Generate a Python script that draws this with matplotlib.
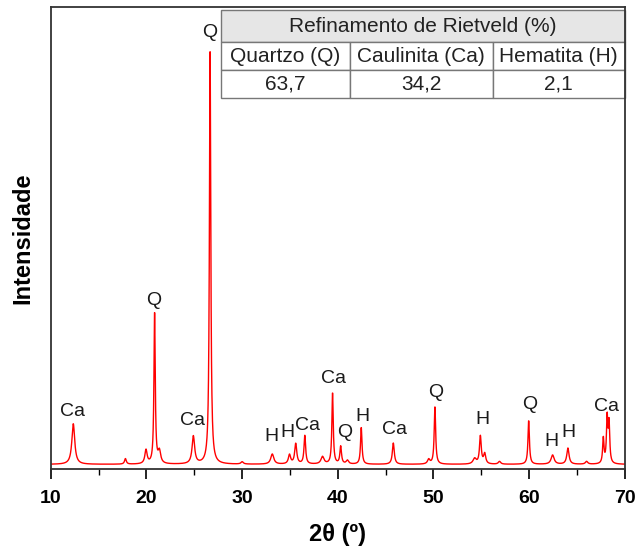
import numpy as np
import matplotlib.pyplot as plt

plt.rcParams['font.family'] = ['Liberation Sans', 'DejaVu Sans']

# peak list: position (2theta), height (a.u.), fwhm
peak_pos = [12.35, 17.8, 19.95, 20.85, 21.35, 24.9, 26.65, 30.0, 33.15, 34.95, 35.6,
            36.55, 38.4, 39.45, 40.3, 41.0, 42.45, 45.8, 49.5, 50.15, 54.3, 54.9,
            55.35, 56.9, 59.95, 62.45, 64.05, 66.0, 67.75, 68.15, 68.35]
peak_h = [88, 12, 30, 330, 26, 60, 905, 5, 22, 20, 44,
          62, 16, 155, 38, 8, 80, 46, 10, 125, 12, 60,
          22, 6, 95, 20, 35, 6, 55, 98, 85]
peak_w = [0.36, 0.22, 0.28, 0.16, 0.32, 0.32, 0.17, 0.3, 0.38, 0.28, 0.26,
          0.2, 0.38, 0.17, 0.2, 0.3, 0.18, 0.24, 0.3, 0.18, 0.4, 0.22,
          0.26, 0.3, 0.18, 0.38, 0.28, 0.3, 0.17, 0.17, 0.17]
baseline = 10

# phase labels: text, x, y (a.u.)
lab_txt = ['Ca', 'Q', 'Ca', 'Q', 'H', 'H', 'Ca', 'Ca', 'Q', 'H', 'Ca', 'Q', 'H', 'Q', 'H', 'H', 'Ca']
lab_x = [12.3, 20.8, 24.8, 26.6, 33.1, 34.7, 36.8, 39.5, 40.7, 42.6, 45.9, 50.2, 55.1, 60.1, 62.3, 64.1, 68.1]
lab_y = [125, 365, 104, 945, 70, 80, 95, 196, 78, 114, 85, 165, 108, 140, 60, 80, 136]

table_head = 'Refinamento de Rietveld (%)'
table_cols = ['Quartzo (Q)', 'Caulinita (Ca)', 'Hematita (H)']
table_vals = ['63,7', '34,2', '2,1']

x = np.arange(10, 70.001, 0.02)
y = np.full_like(x, baseline, dtype=float)
for p, h, w in zip(peak_pos, peak_h, peak_w):
    g = (w / 2) ** 2
    y += h * g / ((x - p) ** 2 + g)

fig = plt.figure(figsize=(6.35, 5.47), dpi=100)
ax = fig.add_axes([0.080, 0.1426, 0.904, 0.8444])
ax.plot(x, y, color='#ff0000', lw=1.0)
ax.set_xlim(10, 70)
ax.set_ylim(0, 1000)
ax.set_yticks([])
ax.set_xticks([10, 20, 30, 40, 50, 60, 70])
ax.set_xticks(np.arange(15, 70, 10), minor=True)
ax.tick_params(axis='x', which='major', direction='out', length=7, width=1.2,
               labelsize=14, pad=8)
ax.tick_params(axis='x', which='minor', direction='out', length=4, width=1.0)
for lbl in ax.get_xticklabels():
    lbl.set_fontweight('bold')
for s in ax.spines.values():
    s.set_linewidth(1.3)
    s.set_color('#333333')
ax.set_xlabel('2θ (º)', fontsize=17, fontweight='bold', labelpad=12)
ax.set_ylabel('Intensidade', fontsize=17, fontweight='bold', labelpad=12)

for t, lx, ly in zip(lab_txt, lab_x, lab_y):
    ax.text(lx, ly, t, ha='center', va='center', fontsize=14, color='#1a1a1a')

# table
x0, x1 = 0.296, 1.0
head = ax.table(cellText=[[table_head]], cellLoc='center',
                bbox=[x0, 0.924, x1 - x0, 0.0695])
head.auto_set_font_size(False)
hc = head[0, 0]
hc.set_facecolor('#e6e6e6')
hc.set_edgecolor('#777777')
hc.get_text().set_fontsize(15)
hc.get_text().set_color('#222222')
body = ax.table(cellText=[table_cols, table_vals], cellLoc='center',
                colWidths=[0.319, 0.354, 0.327],
                bbox=[x0, 0.803, x1 - x0, 0.121])
body.auto_set_font_size(False)
for (r, c), cell in body.get_celld().items():
    cell.set_edgecolor('#777777')
    cell.get_text().set_fontsize(15)
    cell.get_text().set_color('#222222')

fig.savefig('out.png', dpi=100)
